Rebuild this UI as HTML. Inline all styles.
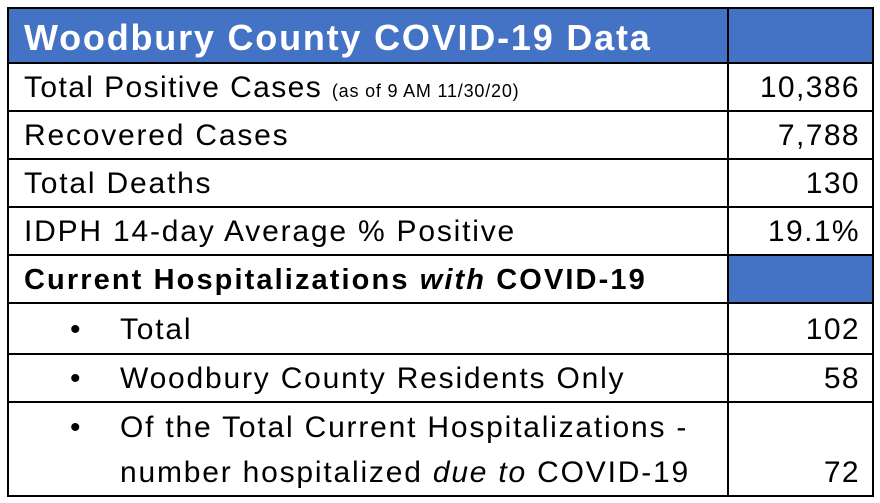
<!DOCTYPE html><html><head><style>
body{margin:0;width:880px;height:503px;background:#fff;position:relative;font-family:"Liberation Sans",sans-serif;overflow:hidden}
.h{position:absolute;background:#000;height:2px}
.v{position:absolute;background:#000;width:2px}
.t{position:absolute;font-size:30px;letter-spacing:1.8px;color:#000;white-space:nowrap;line-height:32px}
.r{right:20px;text-align:right;letter-spacing:1.4px}
</style></head><body>
<div style="position:absolute;left:8px;top:8px;width:720px;height:54px;background:#4472C4"></div>
<div style="position:absolute;left:728px;top:8px;width:145px;height:54px;background:#4472C4"></div>
<div style="position:absolute;left:728px;top:254px;width:145px;height:48px;background:#4472C4"></div>
<div class="h" style="left:7px;top:7px;width:867px"></div>
<div class="h" style="left:7px;top:62px;width:867px"></div>
<div class="h" style="left:7px;top:110px;width:867px"></div>
<div class="h" style="left:7px;top:158px;width:867px"></div>
<div class="h" style="left:7px;top:206px;width:867px"></div>
<div class="h" style="left:7px;top:254px;width:867px"></div>
<div class="h" style="left:7px;top:302px;width:867px"></div>
<div class="h" style="left:7px;top:353px;width:867px"></div>
<div class="h" style="left:7px;top:401px;width:867px"></div>
<div class="h" style="left:7px;top:495px;width:867px"></div>
<div class="v" style="left:7px;top:7px;height:490px"></div>
<div class="v" style="left:872px;top:7px;height:490px"></div>
<div class="v" style="left:727px;top:7px;height:490px"></div>
<div class="t" style="left:24px;top:18px;color:#fff;font-weight:bold;font-size:36px;letter-spacing:1.8px;line-height:40px">Woodbury County COVID-19 Data</div>
<div class="t" style="left:24px;top:72px;letter-spacing:1.4px">Total Positive Cases <span style="font-size:18px;letter-spacing:0.8px">(as of 9 AM 11/30/20)</span></div>
<div class="t r" style="top:72px">10,386</div>
<div class="t" style="left:24px;top:120px">Recovered Cases</div>
<div class="t r" style="top:120px">7,788</div>
<div class="t" style="left:24px;top:168px">Total Deaths</div>
<div class="t r" style="top:168px">130</div>
<div class="t" style="left:24px;top:216px">IDPH 14-day Average % Positive</div>
<div class="t r" style="top:216px">19.1%</div>
<div class="t" style="left:24px;top:264px;font-weight:bold;font-size:29px;letter-spacing:2.1px">Current Hospitalizations <i>with</i> COVID-19</div>
<div class="t" style="left:70px;top:314px">•</div>
<div class="t" style="left:120px;top:314px">Total</div>
<div class="t r" style="top:314px">102</div>
<div class="t" style="left:70px;top:363px">•</div>
<div class="t" style="left:120px;top:363px">Woodbury County Residents Only</div>
<div class="t r" style="top:363px">58</div>
<div class="t" style="left:70px;top:412px">•</div>
<div class="t" style="left:120px;top:412px">Of the Total Current Hospitalizations -</div>
<div class="t" style="left:120px;top:457px">number hospitalized <i>due to</i> COVID-19</div>
<div class="t r" style="top:457px">72</div>
</body></html>
